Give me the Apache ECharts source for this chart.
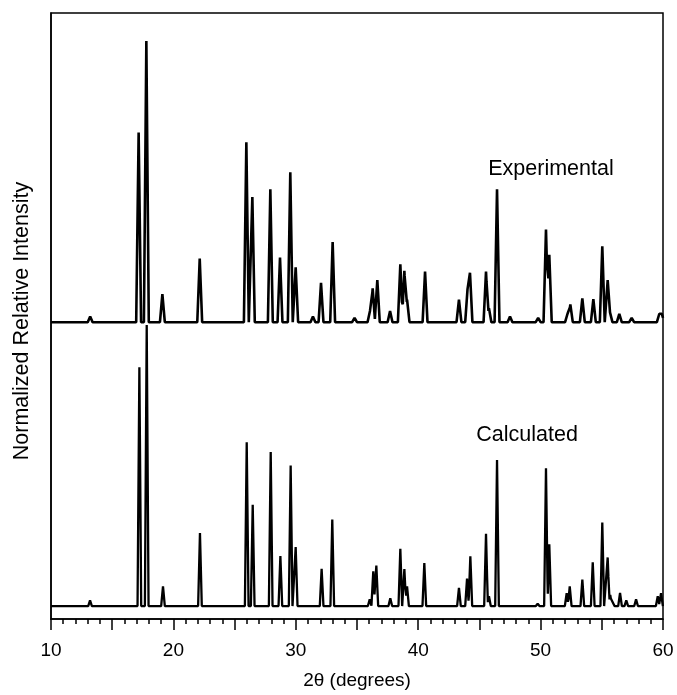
<!DOCTYPE html>
<html>
<head>
<meta charset="utf-8">
<script src="https://cdn.jsdelivr.net/npm/echarts@6/dist/echarts.min.js"></script>
<style>html,body{margin:0;padding:0;background:#fff}#c{width:677px;height:695px}</style>
</head>
<body>
<div id="c"></div>
<script>
// Peak positions (2θ, degrees) and relative heights (% of strongest)
const expPos = [13.2, 17.16, 17.79, 19.10, 22.15, 25.96, 26.45, 27.92, 28.71, 29.55, 29.99, 31.4, 32.06, 33.01, 34.8, 36.06, 36.28, 36.66, 37.7, 38.54, 38.87, 39.09, 40.56, 43.33, 44.04, 44.23, 45.54, 45.78, 46.44, 47.5, 49.8, 50.44, 50.71, 52.2, 52.43, 53.41, 54.31, 55.04, 55.48, 55.67, 56.43, 57.44, 59.7, 59.9];
const expHgt = [2, 67.5, 100, 10, 22.6, 64, 44.5, 47.3, 23, 53.3, 19.5, 2, 14, 28.5, 1.5, 4, 12, 15, 4, 20.6, 18.3, 8, 18, 8, 12.4, 17.6, 18, 5, 47.3, 2, 1.5, 33, 24, 3, 6.3, 8.5, 8.2, 27, 15, 3.5, 3, 1.5, 3, 3];
const calcPos = [13.19, 17.22, 17.82, 19.15, 22.17, 25.99, 26.48, 27.95, 28.74, 29.58, 29.99, 31.0, 32.11, 32.98, 34.9, 36.04, 36.33, 36.58, 37.72, 38.54, 38.87, 39.09, 40.5, 41.84, 43.33, 43.99, 44.26, 45.54, 45.78, 46.44, 49.76, 50.44, 50.71, 52.13, 52.38, 53.41, 54.26, 55.04, 55.48, 55.69, 55.89, 56.49, 57.0, 57.8, 59.57, 59.84];
const calcHgt = [2, 85, 100, 7, 26, 58.3, 36, 54.8, 17.8, 50, 21, 0.5, 13.3, 30.8, 0.7, 2.4, 12.4, 14.4, 2.8, 20.4, 13.2, 7, 15.3, 0.5, 6.5, 9.8, 17.7, 25.7, 3.5, 52, 0.8, 49, 22, 4.6, 7, 9.4, 15.6, 29.7, 17.3, 4, 3, 4.7, 2, 2.4, 3.5, 4.6];
const expOffset = 101;
const xTicks = [10, 20, 30, 40, 50, 60];
const traceNames = ['Experimental', 'Calculated'];

function profile(pos, hgt, w, offset) {
  const xs = new Set([10, 60]);
  pos.forEach(p => { xs.add(+(p - w).toFixed(3)); xs.add(p); xs.add(+(p + w).toFixed(3)); });
  const sorted = [...xs].filter(x => x >= 10 && x <= 60).sort((a, b) => a - b);
  return sorted.map(x => {
    let y = 0;
    pos.forEach((p, i) => { const t = 1 - Math.abs(x - p) / w; if (t > 0) y = Math.max(y, hgt[i] * t); });
    return [x, y + offset];
  });
}

const font = 'Liberation Sans, Arial, sans-serif';
const chart = echarts.init(document.getElementById('c'), null, {renderer: 'canvas'});
chart.setOption({
  animation: false,
  grid: {left: 51, right: 14, top: 13, bottom: 72, show: true, borderColor: '#000', borderWidth: 1.5},
  xAxis: {
    type: 'value', min: 10, max: 60, interval: 5,
    name: '2θ (degrees)', nameLocation: 'middle', nameGap: 52,
    nameTextStyle: {fontSize: 19, color: '#000', fontFamily: font},
    axisLine: {onZero: false, lineStyle: {color: '#000', width: 1.5}},
    axisTick: {show: true, inside: false, length: 11, lineStyle: {color: '#000', width: 1.5}},
    minorTick: {show: true, splitNumber: 5, length: 5, lineStyle: {color: '#000', width: 1.5}},
    splitLine: {show: false},
    axisLabel: {margin: 22, fontSize: 19, color: '#000', fontFamily: font,
      formatter: v => xTicks.includes(v) ? String(v) : ''}
  },
  yAxis: {
    type: 'value', min: -4.6, max: 211,
    name: 'Normalized Relative Intensity', nameLocation: 'middle', nameGap: 18,
    nameTextStyle: {fontSize: 21.5, color: '#000', fontFamily: font, padding: [0, 10, 0, 0]},
    axisLine: {show: true, onZero: false, lineStyle: {color: '#000', width: 1.5}},
    axisTick: {show: false}, axisLabel: {show: false}, splitLine: {show: false}
  },
  series: [
    {
      name: traceNames[0], type: 'line', data: profile(expPos, expHgt, 0.2, expOffset),
      showSymbol: false, symbol: 'none', lineStyle: {color: '#000', width: 2.6}, z: 3,
      markPoint: {symbol: 'circle', symbolSize: 0, silent: true,
        label: {show: true, position: 'inside', formatter: traceNames[0], fontSize: 21.5, color: '#000', fontFamily: font},
        data: [{coord: [50.85, 155.5]}]}
    },
    {
      name: traceNames[1], type: 'line', data: profile(calcPos, calcHgt, 0.15, 0),
      showSymbol: false, symbol: 'none', lineStyle: {color: '#000', width: 2.3}, z: 2,
      markPoint: {symbol: 'circle', symbolSize: 0, silent: true,
        label: {show: true, position: 'inside', formatter: traceNames[1], fontSize: 21.5, color: '#000', fontFamily: font},
        data: [{coord: [48.9, 60.8]}]}
    }
  ]
});
</script>
</body>
</html>
